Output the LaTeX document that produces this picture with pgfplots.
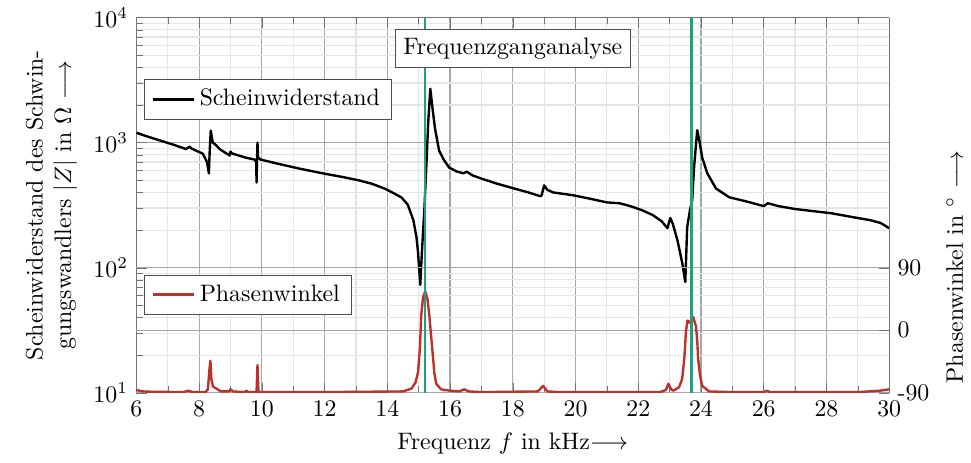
\documentclass[border=0pt]{standalone}
\usepackage{pgfplots}
\pgfplotsset{compat=1.18}
\definecolor{zred}{RGB}{192,48,42}
\definecolor{zgreen}{RGB}{28,162,126}
\begin{document}
\begin{tikzpicture}
\begin{axis}[
  scale only axis, width=316pt, height=157.5pt,
  xmin=6, xmax=30, ymode=log, ymin=10, ymax=10000,
  xtick={6,8,...,30}, minor xtick={7,9,...,29},
  grid=both,
  major grid style={black!35, line width=0.5pt},
  minor grid style={black!10, line width=0.5pt},
  axis line style={black!55},
  tick style={black!55},
  axis y line*=left,
  xlabel={Frequenz $f$ in kHz$\longrightarrow$},
  ylabel={Scheinwiderstand des Schwin-\\gungswandlers $|Z|$ in $\Omega$ $\longrightarrow$},
  ylabel style={align=center},
  legend style={at={(0.0105,0.836)}, anchor=north west, draw=black!70, fill=white, legend cell align=left},
]
\addplot[black, line width=1pt, line join=round] coordinates {
(6.0,1200) (6.4,1110) (6.76,1040) (7.2,960) (7.58,890) (7.7,930) (7.75,900)
(8.12,815) (8.25,700) (8.31,568) (8.34,900) (8.37,1250) (8.42,1050) (8.44,1000)
(8.55,950) (8.65,890) (8.97,790) (9.0,850) (9.05,820) (9.48,760) (9.77,733)
(9.82,700) (9.83,480) (9.85,800) (9.86,1000) (9.88,760) (9.96,733) (10.5,680)
(11.2,620) (12.0,565) (12.6,530) (13.09,500) (13.5,470) (13.91,430) (14.2,395)
(14.45,365) (14.65,320) (14.83,240) (14.93,175) (14.98,132) (15.05,73) (15.1,130)
(15.18,290) (15.25,700) (15.3,1400) (15.37,2700) (15.45,1800) (15.52,1300)
(15.65,865) (15.8,730) (15.97,633) (16.2,590) (16.41,570) (16.54,585) (16.7,550)
(16.98,518) (17.5,470) (18.03,431) (18.5,400) (18.88,373) (18.92,380) (19.0,456)
(19.1,420) (19.29,400) (19.92,380) (20.5,355) (21.0,333) (21.4,328) (21.73,312)
(22.1,290) (22.46,264) (22.75,235) (22.93,207) (23.02,250) (23.1,225) (23.25,166)
(23.4,110) (23.5,77) (23.56,211) (23.65,290) (23.72,345) (23.78,635) (23.88,1260)
(23.96,1000) (24.04,758) (24.2,570) (24.48,430) (24.9,366) (25.43,340) (26.0,311)
(26.13,328) (26.47,311) (27.0,295) (27.5,285) (28.15,273) (28.8,255) (29.4,240)
(29.73,228) (30.0,207)
};
\addlegendentry{Scheinwiderstand}
\end{axis}
\begin{axis}[
  scale only axis, width=316pt, height=157.5pt,
  xmin=6, xmax=30, ymin=-90, ymax=450,
  axis x line=none, axis y line*=right,
  ytick={-90,0,90}, yticklabels={-90,0,90},
  ymajorgrids, major grid style={black!35, line width=0.5pt},
  axis line style={black!55},
  tick style={black!55},
  ylabel={Phasenwinkel in $^\circ$ $\longrightarrow$},
  ylabel style={at={(axis description cs:1.087,0.336)}, anchor=center, rotate=0},
  legend style={at={(0.0105,0.315)}, anchor=north west, draw=black!70, fill=white, legend cell align=left},
]
\addplot[zred, line width=1pt, line join=round] coordinates {
(6.0,-86) (6.2,-88) (6.5,-88.5) (7.5,-89) (7.65,-87) (7.8,-89) (8.2,-89) (8.28,-85)
(8.33,-55) (8.36,-44) (8.39,-70) (8.44,-81) (8.55,-84) (8.7,-88) (8.95,-88) (9.0,-85)
(9.08,-88) (9.45,-89) (9.5,-87) (9.58,-89) (9.83,-89) (9.86,-50) (9.89,-89) (10.5,-89)
(12,-89) (14.5,-88) (14.77,-84) (14.9,-75) (14.98,-60) (15.04,-25) (15.08,21)
(15.14,48) (15.21,56) (15.28,45) (15.34,21) (15.4,-10) (15.46,-41) (15.5,-62)
(15.56,-77) (15.71,-85) (16.0,-87) (16.3,-88) (16.45,-85) (16.6,-88) (17,-89)
(18.8,-88) (18.97,-80) (19.1,-88) (19.5,-89) (22.7,-89) (22.88,-86) (22.96,-77)
(23.05,-85) (23.12,-87) (23.3,-82) (23.4,-70) (23.47,-40) (23.52,-2) (23.57,14)
(23.64,11) (23.75,19) (23.84,6) (23.88,-15) (23.91,-41) (23.97,-65) (24.04,-80)
(24.26,-88) (25,-89) (26.0,-89) (26.1,-87) (26.2,-89) (29,-89) (29.7,-87) (30,-85)
};
\addlegendentry{Phasenwinkel}
\addplot[zgreen, line width=1.2pt, forget plot] coordinates {(15.2,-90) (15.2,450)};
\addplot[zgreen, line width=1.2pt, forget plot] coordinates {(23.7,-90) (23.7,450)};
\node[draw=black!70, fill=white, anchor=center] at (rel axis cs:0.5,0.918) {Frequenzganganalyse};
\end{axis}
\path ([xshift=-7.5pt]current bounding box.west) -- (current bounding box.east);
\end{tikzpicture}
\end{document}
